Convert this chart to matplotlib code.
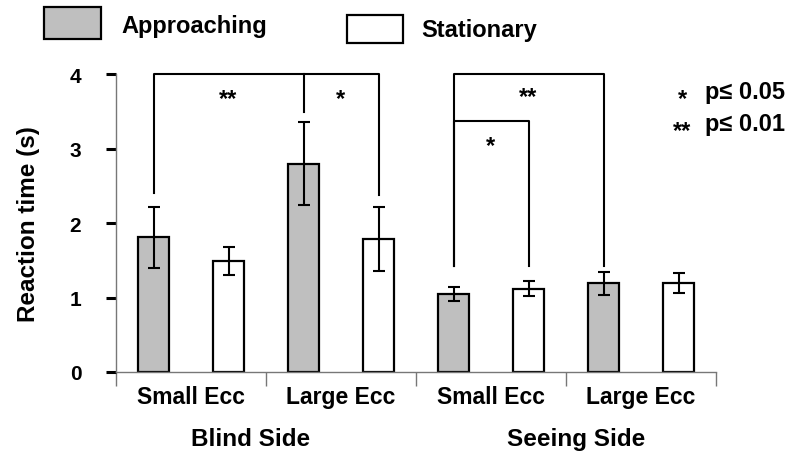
import matplotlib
matplotlib.use('Agg')
import matplotlib.pyplot as plt
from matplotlib.patches import Rectangle
import numpy as np

plt.rcParams['font.family'] = ['Liberation Sans', 'DejaVu Sans']
plt.rcParams['font.weight'] = 'bold'

groups = ['Small Ecc', 'Large Ecc', 'Small Ecc', 'Large Ecc']
sides = ['Blind Side', 'Seeing Side']
approaching = [1.81, 2.80, 1.05, 1.19]
approaching_err = [0.41, 0.56, 0.09, 0.16]
stationary = [1.49, 1.79, 1.12, 1.19]
stationary_err = [0.19, 0.43, 0.10, 0.135]

W, H = 786, 456


def px(x, y):
    return x / W, 1 - y / H


fig = plt.figure(figsize=(W / 100, H / 100), dpi=100)
ax = fig.add_axes([116 / W, 83 / H, 600 / W, 297.7 / H])

x = np.arange(len(groups))
off, bw = 0.25, 0.207
gray = '#bfbfbf'
ekw = dict(ecolor='black', elinewidth=1.5, capsize=4.5, capthick=1.5)
ax.bar(x - off, approaching, bw, yerr=approaching_err, color=gray,
       edgecolor='black', linewidth=1.6, error_kw=ekw, zorder=2)
ax.bar(x + off, stationary, bw, yerr=stationary_err, color='white',
       edgecolor='black', linewidth=1.6, error_kw=ekw, zorder=2)

ax.set_xlim(-0.5, 3.5)
ax.set_ylim(0, 4)
for s in ['top', 'right']:
    ax.spines[s].set_visible(False)
ax.spines['left'].set_color('#777777')
ax.spines['bottom'].set_color('#777777')
ax.spines['left'].set_linewidth(1)
ax.spines['bottom'].set_linewidth(1)

ax.set_yticks([0, 1, 2, 3, 4])
ax.tick_params(axis='y', direction='out', length=7, width=2.2, color='black',
               labelsize=15, pad=18)
ax.set_xticks(np.arange(-0.5, 4, 1))
ax.set_xticklabels([])
ax.tick_params(axis='x', direction='out', length=10, width=1, color='#777777')
for i, g in enumerate(groups):
    ax.text(i, -0.33, g, ha='center', va='center', fontsize=16.5, fontweight='bold')
for xs, s in zip([0.4, 2.57], sides):
    ax.text(xs, -0.9, s, ha='center', va='center', fontsize=17.5, fontweight='bold')
ax.set_ylabel('Reaction time (s)', fontsize=17.5, fontweight='bold', labelpad=21)


def bracket(x1, x2, top, y1, y2):
    ax.plot([x1, x1, x2, x2], [y1, top, top, y2], color='black', lw=1.5,
            clip_on=False, zorder=3)


def stars(xd, yd, s, size=17):
    # place glyph centre at (xd, yd): asterisk sits ~0.56 em above baseline
    ax.annotate(s, (xd, yd), xytext=(0, -0.56 * size), textcoords='offset points',
                ha='center', va='baseline', fontsize=size, annotation_clip=False)


# blind side brackets
bracket(-off, 1 + off, 4.0, 2.40, 2.38)
ax.plot([1 - off, 1 - off], [4.0, 3.49], color='black', lw=1.5, clip_on=False)
stars(0.25, 3.76, '**')
stars(1.0, 3.76, '*')
# seeing side brackets
bracket(2 - off, 3 - off, 4.0, 1.43, 1.43)
bracket(2 - off, 2 + off, 3.37, 1.43, 1.43)
stars(2.25, 3.79, '**')
stars(2.0, 3.13, '*')

# significance key
for yy, s, lab in [(93, '*', 'p\u2264 0.05'), (125, '**', 'p\u2264 0.01')]:
    fig.text(*px(682, yy + 0.56 * 17 * 100 / 72), s, ha='center', va='baseline',
             fontsize=17)
    fig.text(*px(705, yy), lab, ha='left', va='center', fontsize=17)

# legend
fig.patches.append(Rectangle(px(44, 40), 57 / W, 32 / H, transform=fig.transFigure,
                             facecolor=gray, edgecolor='black', lw=1.6))
fig.patches.append(Rectangle(px(347, 44), 56 / W, 28 / H, transform=fig.transFigure,
                             facecolor='white', edgecolor='black', lw=1.6))
fig.text(*px(121, 27), 'Approaching', ha='left', va='center', fontsize=17)
fig.text(*px(421, 31), 'Stationary', ha='left', va='center', fontsize=17)

fig.savefig('out.png', dpi=100)
